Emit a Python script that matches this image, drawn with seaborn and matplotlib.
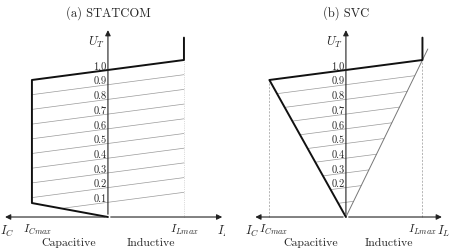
import numpy as np
import matplotlib
matplotlib.use("Agg")
import matplotlib.pyplot as plt
import seaborn as sns

# ---- data (I in units of I_max, U in p.u.) ----
levels = [0.1, 0.2, 0.3, 0.4, 0.5, 0.6, 0.7, 0.8, 0.9]
tick_a = [0.1, 0.2, 0.3, 0.4, 0.5, 0.6, 0.7, 0.8, 0.9, 1.0]
tick_b = [0.2, 0.3, 0.4, 0.5, 0.6, 0.7, 0.8, 0.9, 1.0]
slope = 0.068          # droop of the U-I characteristic
u_bottom_cap = 0.095   # STATCOM voltage at I_Cmax on the lower branch
u_top_end = 1.22       # top of the vertical limit at I_Lmax

# STATCOM outline
statcom_I = [1.0, 1.0, 0.0, -1.0, -1.0, 0.0]
statcom_U = [u_top_end, 1 + slope, 1.0, 1 - slope, u_bottom_cap, 0.0]
# SVC outline (thick part) and inductor line
svc_I = [1.0, 1.0, 0.0, -1.0, 0.0]
svc_U = [u_top_end, 1 + slope, 1.0, 1 - slope, 0.0]
svc_L_I = [0.0, 1.07]
svc_L_U = [0.0, 1.07 * (1 + slope)]

sns.set_theme(style="white")
plt.rcParams["font.family"] = "serif"
plt.rcParams["font.serif"] = ["cmr10", "DejaVu Serif"]
plt.rcParams["mathtext.fontset"] = "cm"
plt.rcParams["axes.unicode_minus"] = False

fig = plt.figure(figsize=(4.5, 2.52), dpi=100)
ax_a = fig.add_axes([0, 0, 0.5, 1])
ax_b = fig.add_axes([0.5, 0, 0.5, 1])
ax_a.set_xlim(-1.42, 1.54)
ax_b.set_xlim(-1.58, 1.36)
for ax in (ax_a, ax_b):
    ax.set_ylim(-0.238, 1.476)
    ax.axis("off")

thin = dict(color="#9a9a9a", lw=0.5)
axis_kw = dict(arrowstyle="-|>", color="#222222", lw=0.8, mutation_scale=8)


def draw_axes(ax, xl, xr):
    ax.annotate("", xy=(0, 1.29), xytext=(0, 0), arrowprops=axis_kw)
    ax.annotate("", xy=(xl, 0), xytext=(0, 0), arrowprops=axis_kw)
    ax.annotate("", xy=(xr, 0), xytext=(0, 0), arrowprops=axis_kw)


# ---------------- (a) STATCOM ----------------
ax = ax_a
for v in levels:
    i0 = max(-1.0, -v / (slope + u_bottom_cap))
    xs = np.array([i0, 1.0])
    ax.plot(xs, v + slope * xs, **thin)
ax.plot([1, 1], [0, 1 + slope], color="#bbbbbb", lw=0.5, ls=":")
sns.lineplot(x=statcom_I, y=statcom_U, sort=False, estimator=None,
             color="#111111", lw=1.4, ax=ax)
draw_axes(ax, -1.39, 1.54)
for v in tick_a:
    ax.text(-0.02, v + 0.02, f"{v:.1f}", ha="right", va="center", fontsize=7.5)
ax.text(0, 1.39, "(a) STATCOM", ha="center", va="center", fontsize=9)
ax.text(-0.15, 1.19, "$U_T$", ha="center", va="center", fontsize=9)
ax.text(-1.32, -0.1, "$I_C$", ha="center", va="center", fontsize=9)
ax.text(-0.93, -0.09, "$I_{Cmax}$", ha="center", va="center", fontsize=8.5)
ax.text(1.01, -0.09, "$I_{Lmax}$", ha="center", va="center", fontsize=8.5)
ax.text(1.44, -0.1, "$I_L$", ha="left", va="center", fontsize=9)
ax.text(-0.52, -0.18, "Capacitive", ha="center", va="center", fontsize=8.5)
ax.text(0.56, -0.18, "Inductive", ha="center", va="center", fontsize=8.5)

# ---------------- (b) SVC ----------------
ax = ax_b
# white strip hides the tail of panel (a)'s I_L label, as in the source image
ax.axvspan(-1.58, -1.5, color="white", zorder=5)
for v in levels:
    i0 = -v / ((1 - slope) + slope)
    i1 = v / ((1 + slope) - slope)
    xs = np.array([i0, i1])
    ax.plot(xs, v + slope * xs, **thin)
ax.plot([-1, -1], [0, 1 - slope], color="#999999", lw=0.5, ls="--", dashes=(3, 2))
ax.plot([1, 1], [0, 1 + slope], color="#999999", lw=0.5, ls="--", dashes=(3, 2))
ax.plot(svc_L_I, svc_L_U, color="#777777", lw=0.7)
sns.lineplot(x=svc_I, y=svc_U, sort=False, estimator=None,
             color="#111111", lw=1.4, ax=ax)
draw_axes(ax, -1.22, 1.29)
for v in tick_b:
    ax.text(-0.02, v + 0.02, f"{v:.1f}", ha="right", va="center", fontsize=7.5)
ax.text(0, 1.39, "(b) SVC", ha="center", va="center", fontsize=9)
ax.text(-0.15, 1.19, "$U_T$", ha="center", va="center", fontsize=9)
ax.text(-1.22, -0.1, "$I_C$", ha="center", va="center", fontsize=9)
ax.text(-0.94, -0.09, "$I_{Cmax}$", ha="center", va="center", fontsize=8.5)
ax.text(1.0, -0.09, "$I_{Lmax}$", ha="center", va="center", fontsize=8.5)
ax.text(1.28, -0.1, "$I_L$", ha="center", va="center", fontsize=9)
ax.text(-0.46, -0.18, "Capacitive", ha="center", va="center", fontsize=8.5)
ax.text(0.56, -0.18, "Inductive", ha="center", va="center", fontsize=8.5)

fig.savefig("out.png", dpi=100)
